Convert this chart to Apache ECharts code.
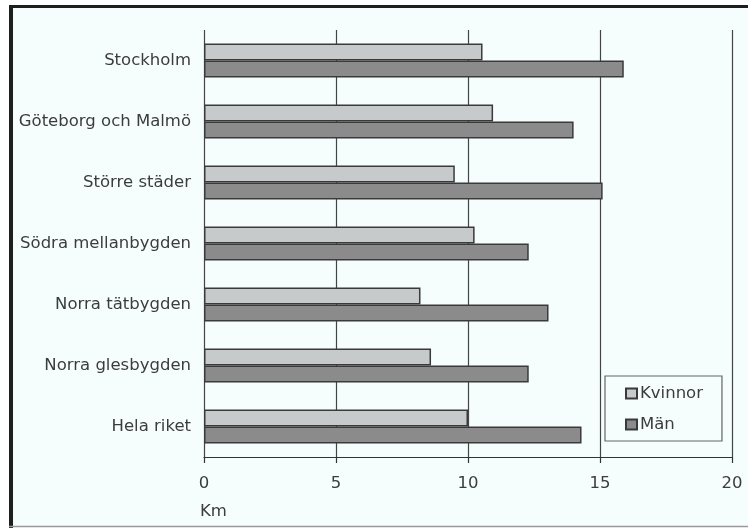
<!DOCTYPE html>
<html>
<head>
<meta charset="utf-8">
<script src="https://cdn.jsdelivr.net/npm/echarts@6/dist/echarts.min.js"></script>
<style>
  html, body { margin: 0; padding: 0; background: #ffffff; }
  #chart { width: 748px; height: 528px; }
</style>
</head>
<body>
<div id="chart"></div>
<script>
// Regions, listed top to bottom
const regions = [
  'Stockholm',
  'Göteborg och Malmö',
  'Större städer',
  'Södra mellanbygden',
  'Norra tätbygden',
  'Norra glesbygden',
  'Hela riket'
];
// Distance in km
const kvinnor = [10.55, 10.95, 9.5, 10.25, 8.2, 8.6, 10.0];
const man = [15.9, 14.0, 15.1, 12.3, 13.05, 12.3, 14.3];
const xTicks = [0, 5, 10, 15, 20];

const FONT = 'DejaVu Sans';
const TEXT = '#3c3c3c';
const LINE = '#333333';
const FS = 16.5;

const chart = echarts.init(document.getElementById('chart'), null, { renderer: 'canvas' });

chart.setOption({
  animation: false,
  backgroundColor: '#ffffff',
  graphic: [
    // panel fill and frame
    { type: 'rect', z: -10, silent: true,
      shape: { x: 11, y: 7, width: 737, height: 520 },
      style: { fill: '#f6fdfd' } },
    { type: 'line', z: 100, silent: true,
      shape: { x1: 9, y1: 6.5, x2: 748, y2: 6.5 },
      style: { stroke: '#1e1e1e', lineWidth: 3 } },
    { type: 'line', z: 100, silent: true,
      shape: { x1: 11, y1: 5, x2: 11, y2: 528 },
      style: { stroke: '#1e1e1e', lineWidth: 4 } },
    { type: 'line', z: 100, silent: true,
      shape: { x1: 9, y1: 526.5, x2: 748, y2: 526.5 },
      style: { stroke: '#9a9a9a', lineWidth: 1.5 } },
    // axis unit
    { type: 'text', left: 200, top: 503,
      style: { text: 'Km', fill: TEXT, font: FS + 'px "' + FONT + '"' } }
  ],
  grid: { left: 204, right: 16, top: 30, bottom: 71, containLabel: false },
  legend: {
    orient: 'vertical',
    left: 605, top: 376,
    padding: [9, 19, 8, 20],
    itemGap: 14,
    itemWidth: 11, itemHeight: 10,
    icon: 'rect',
    borderColor: '#666', borderWidth: 1.2,
    backgroundColor: '#f6fdfd',
    textStyle: { fontFamily: FONT, fontSize: FS, color: TEXT, lineHeight: 16, padding: [0, 0, 0, -2] },
    data: ['Kvinnor', 'Män']
  },
  xAxis: {
    type: 'value',
    min: xTicks[0], max: xTicks[xTicks.length - 1], interval: 5,
    axisLine: { show: true, lineStyle: { color: LINE, width: 1.2 } },
    axisTick: { show: true, length: 6, lineStyle: { color: LINE, width: 1.2 } },
    splitLine: { show: true, lineStyle: { color: '#444', width: 1.2 } },
    axisLabel: { fontFamily: FONT, fontSize: FS, color: TEXT, margin: 18 }
  },
  yAxis: {
    type: 'category',
    inverse: true,
    data: regions,
    axisLine: { show: false },
    axisTick: { show: false },
    axisLabel: { fontFamily: FONT, fontSize: FS, color: TEXT, margin: 13 }
  },
  series: [
    {
      name: 'Kvinnor', type: 'bar', data: kvinnor,
      barWidth: 17, barGap: '0%',
      itemStyle: { color: '#c6caca', borderColor: '#3a3a3a', borderWidth: 1.5 }
    },
    {
      name: 'Män', type: 'bar', data: man,
      barWidth: 17, barGap: '0%',
      itemStyle: { color: '#8b8b8b', borderColor: '#3a3a3a', borderWidth: 1.5 }
    }
  ]
});
</script>
</body>
</html>
